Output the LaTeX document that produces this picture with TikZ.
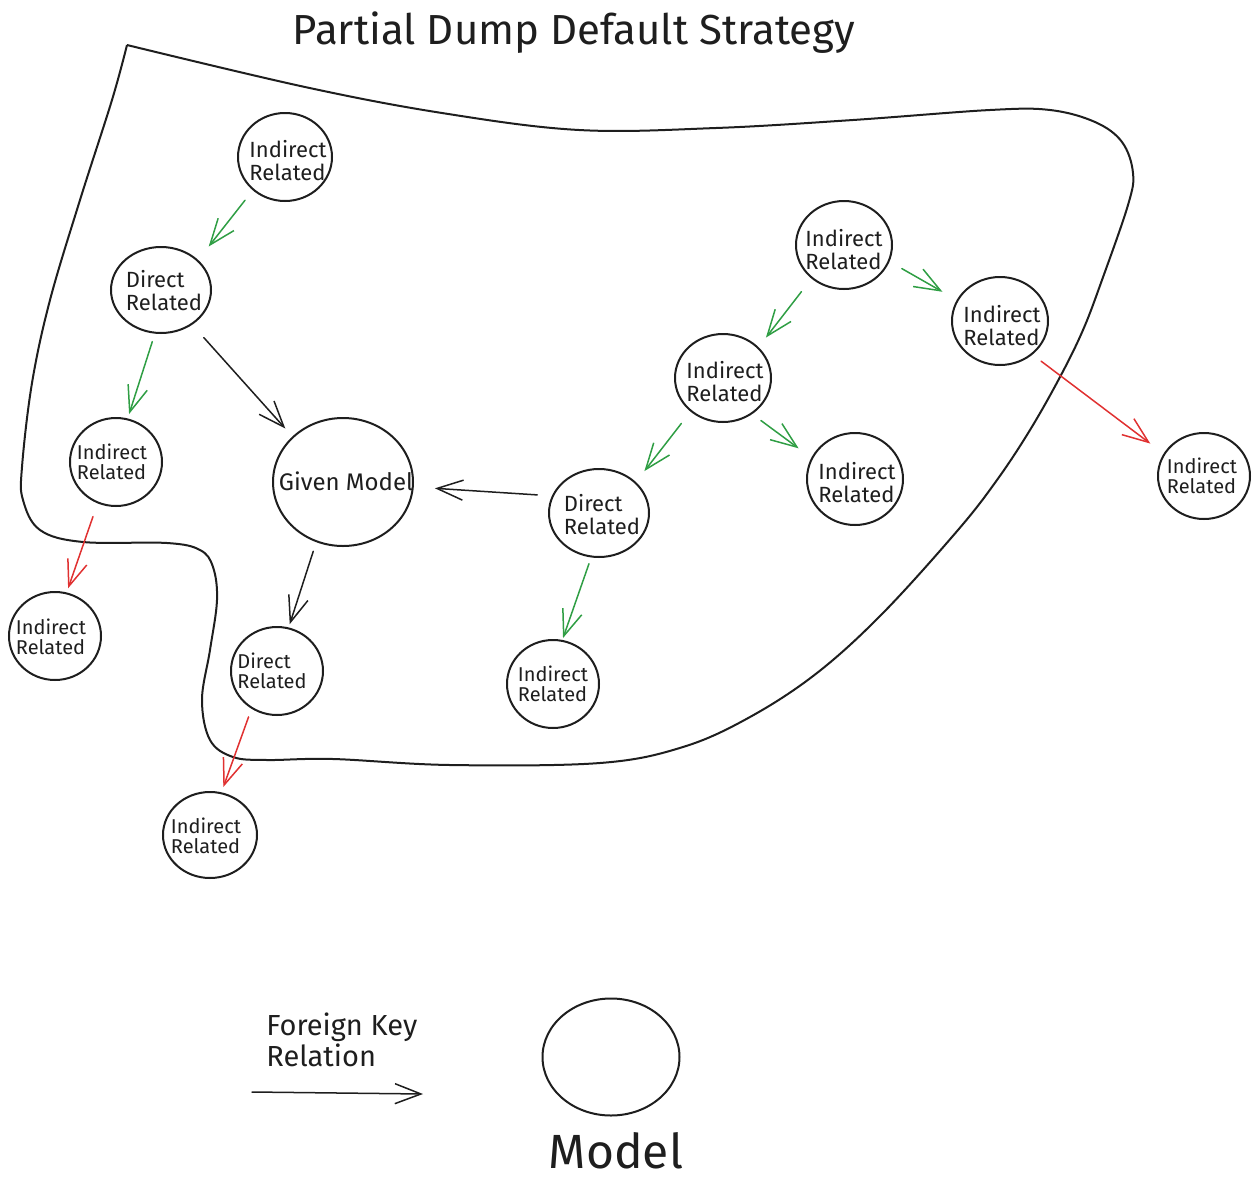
\documentclass[tikz,border=0pt]{standalone}
\usepackage{fontspec}
\setmainfont{Fira Sans}
\usetikzlibrary{shapes.geometric,arrows.meta}
\definecolor{fkgreen}{HTML}{2F9E44}
\definecolor{fkred}{HTML}{E03131}
\definecolor{ink}{HTML}{1E1E1E}
\begin{document}
\begin{tikzpicture}[x=0.5pt,y=-0.5pt,
  model/.style={ellipse,draw=ink,line width=1pt,inner sep=0pt},
  lbl/.style={align=left,inner sep=0pt,text=ink,font=\fontsize{11}{11.5}\selectfont},
  lbls/.style={align=left,inner sep=0pt,text=ink,font=\fontsize{10}{10.3}\selectfont},
  fk/.style={draw=ink,line width=0.75pt,line cap=round,line join=round,-{Straight Barb[length=13pt,width=10pt]}},
  fkg/.style={fk,draw=fkgreen},
  fkr/.style={fk,draw=fkred},
  blob/.style={draw=ink,line width=1pt,line join=round}]
\useasboundingbox (0,0) rectangle (1260,1195);

\node[font=\fontsize{21}{25}\selectfont,text=ink,anchor=base,inner sep=0pt] (title) at (574,44) {Partial Dump Default Strategy};

\draw[blob] plot[smooth,tension=0.6] coordinates {(127,45) (305,87) (442,113) (579,130) (716,128) (853,120) (990,110) (1050,110) (1095,122) (1122,142) (1133,173) (1128,205) (1102,280) (1083,330) (1060,377) (1030,430) (997,480) (958,530) (883,613) (817,673) (750,717) (683,747) (600,763) (450,765) (333,759) (267,760) (233,757) (210,740) (202,700) (210,650) (217,600) (213,567) (200,550) (167,543) (83,542) (40,530) (23,500) (22,467) (32,383) (50,300) (80,200) (112,100) (127,45)};

% model nodes
\node[model,minimum width=47pt,minimum height=44pt] (n1) at (285,157) {};
\node[lbl] (t1) at (288,161) {Indirect\\Related};
\node[model,minimum width=50pt,minimum height=43pt] (n2) at (161,290) {};
\node[lbl] (t2) at (164,291) {Direct\\Related};
\node[model,minimum width=46pt,minimum height=44pt] (n3) at (116,462) {};
\node[lbls] (t3) at (112,462) {Indirect\\Related};
\node[model,minimum width=70pt,minimum height=64pt] (n4) at (343,482) {};
\node[inner sep=0pt,text=ink,font=\fontsize{12}{14}\selectfont] (t4) at (346,481) {Given Model};
\node[model,minimum width=46pt,minimum height=44pt] (n5) at (55,636) {};
\node[lbls] (t5) at (51,637) {Indirect\\Related};
\node[model,minimum width=46pt,minimum height=44pt] (n6) at (277,671) {};
\node[lbls] (t6) at (272,671) {Direct\\Related};
\node[model,minimum width=47pt,minimum height=43pt] (n7) at (210,835) {};
\node[lbls] (t7) at (206,836) {Indirect\\Related};
\node[model,minimum width=48pt,minimum height=44pt] (n8) at (844,245) {};
\node[lbl] (t8) at (844,250) {Indirect\\Related};
\node[model,minimum width=48pt,minimum height=44pt] (n9) at (1000,321) {};
\node[lbl] (t9) at (1002,326) {Indirect\\Related};
\node[model,minimum width=48pt,minimum height=44pt] (n10) at (723,378) {};
\node[lbl] (t10) at (725,382) {Indirect\\Related};
\node[model,minimum width=48pt,minimum height=46pt] (n11) at (855,479) {};
\node[lbl] (t11) at (857,483) {Indirect\\Related};
\node[model,minimum width=46pt,minimum height=43pt] (n12) at (1204,476) {};
\node[lbls] (t12) at (1202,476) {Indirect\\Related};
\node[model,minimum width=50pt,minimum height=44pt] (n13) at (599,513) {};
\node[lbl] (t13) at (602,515) {Direct\\Related};
\node[model,minimum width=46pt,minimum height=44pt] (n14) at (553,684) {};
\node[lbls] (t14) at (553,684) {Indirect\\Related};

% foreign key relations
\draw[fkg,shorten <=6.3pt,shorten >=8.5pt] (n1.226) -- (n2.39);
\draw[fkg,shorten <=4.2pt,shorten >=2.3pt] (n2.262) -- (n3.75);
\draw[fk,shorten <=8.6pt,shorten >=5.3pt] (n2.312) -- (n4.138);
\draw[fkr,shorten <=7pt,shorten >=2.2pt] (n3.246) -- (n5.75);
\draw[fk,shorten <=4.8pt,shorten >=1.7pt] (n4.246) -- (n6.75);
\draw[fkr,shorten <=4.3pt,shorten >=2.8pt] (n6.236) -- (n7.75);
\draw[fk,shorten <=7.3pt,shorten >=10.6pt] (n13.160) -- (n4.356);
\draw[fkg,shorten <=8.2pt,shorten >=6pt] (n8.226) -- (n10.41);
\draw[fkg,shorten <=7.1pt,shorten >=8.2pt] (n8.340) -- (n9.154);
\draw[fkr,shorten <=5.4pt,shorten >=8.3pt] (n9.314) -- (n12.151);
\draw[fkg,shorten <=7.5pt,shorten >=6.9pt] (n10.226) -- (n13.40);
\draw[fkg,shorten <=5.4pt,shorten >=7.9pt] (n10.309) -- (n11.154);
\draw[fkg,shorten <=3.3pt,shorten >=1pt] (n13.260) -- (n14.78);

% legend
\node[font=\fontsize{14.5}{15.5}\selectfont,text=ink,align=left,anchor=north west,inner sep=0pt] (legfk) at (266,1012) {Foreign Key\\Relation};
\coordinate (ls) at (252,1092);
\coordinate (le) at (423,1094);
\draw[fk] (ls) -- (le);
\node[model,minimum width=68.5pt,minimum height=58.5pt] (legmodel) at (611,1057) {};
\node[font=\fontsize{24}{28}\selectfont,text=ink,anchor=base,inner sep=0pt] (legmodeltxt) at (616,1168) {Model};
\end{tikzpicture}
\end{document}
